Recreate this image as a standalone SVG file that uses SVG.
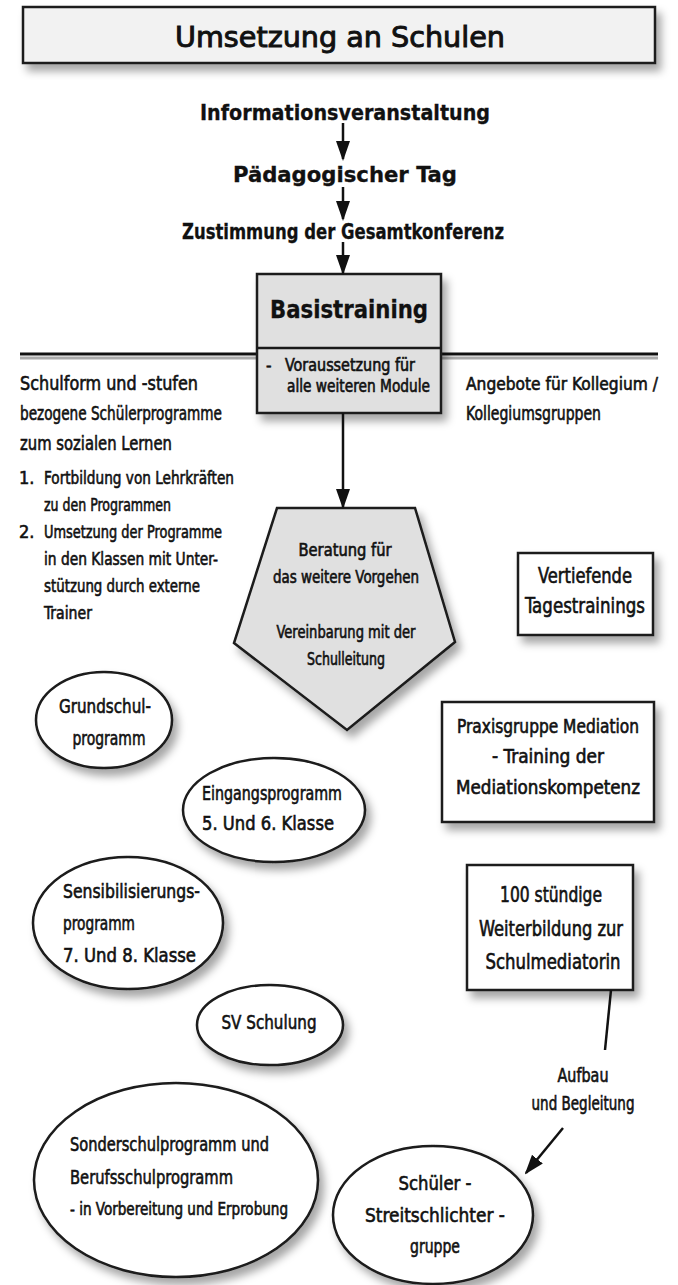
<svg xmlns="http://www.w3.org/2000/svg" width="678" height="1285" viewBox="0 0 678 1285">
<defs>
<filter id="sh" x="-20%" y="-20%" width="150%" height="150%">
<feDropShadow dx="5" dy="7" stdDeviation="4" flood-color="#000" flood-opacity="0.35"/>
</filter>
<marker id="ah" viewBox="0 0 10 10" refX="9" refY="5" markerWidth="8" markerHeight="8" orient="auto" markerUnits="strokeWidth">
<path d="M0,1.5 L10,5 L0,8.5 z" fill="#111"/>
</marker>
<style>
text{font-family:"DejaVu Sans Condensed","DejaVu Sans","Liberation Sans",sans-serif;font-stretch:condensed;fill:#111;stroke:#111;stroke-width:0.6}
.b{font-weight:bold;stroke-width:0.3}
.c{text-anchor:middle}
.shape{stroke:#1a1a1a;stroke-width:2.5;filter:url(#sh)}
.w{fill:#fff}
.g{fill:#e0e0e0}
.conn{stroke:#111;stroke-width:2.5;fill:none}
</style>
</defs>

<g id="title">
<rect class="shape" x="23" y="7" width="632" height="56" fill="#f2f2f2"/>
<text class="c" x="340" y="47" font-size="29" style="stroke-width:0.9" textLength="330" lengthAdjust="spacingAndGlyphs">Umsetzung an Schulen</text>
</g>

<g id="info"><text class="c b" x="345" y="120" font-size="22" textLength="290" lengthAdjust="spacingAndGlyphs">Informationsveranstaltung</text></g>
<g id="paed"><text class="c b" x="345" y="182" font-size="22" textLength="224" lengthAdjust="spacingAndGlyphs">Pädagogischer Tag</text></g>
<g id="zust"><text class="c b" x="343" y="239" font-size="22" textLength="322" lengthAdjust="spacingAndGlyphs">Zustimmung der Gesamtkonferenz</text></g>

<g id="lines">
<line x1="20" y1="358" x2="257" y2="358" stroke="#aaa" stroke-width="3"/>
<line x1="20" y1="354" x2="257" y2="354" stroke="#111" stroke-width="3"/>
<line x1="441" y1="358" x2="658" y2="358" stroke="#aaa" stroke-width="3"/>
<line x1="441" y1="354" x2="658" y2="354" stroke="#111" stroke-width="3"/>
</g>

<g id="basis">
<rect class="shape g" x="257" y="274" width="184" height="139"/>
<line x1="257" y1="348" x2="441" y2="348" stroke="#1a1a1a" stroke-width="2.5"/>
<text class="c b" x="349" y="318" font-size="24" textLength="158" lengthAdjust="spacingAndGlyphs">Basistraining</text>
<text x="266" y="371" font-size="17">-</text>
<text x="285" y="371" font-size="17" textLength="130" lengthAdjust="spacingAndGlyphs">Voraussetzung für</text>
<text x="287" y="392" font-size="17" textLength="143" lengthAdjust="spacingAndGlyphs">alle weiteren Module</text>
</g>

<g id="left-text">
<text x="20" y="390" font-size="20" textLength="178" lengthAdjust="spacingAndGlyphs">Schulform und -stufen</text>
<text x="20" y="420" font-size="20" textLength="202" lengthAdjust="spacingAndGlyphs">bezogene Schülerprogramme</text>
<text x="20" y="450" font-size="20" textLength="152" lengthAdjust="spacingAndGlyphs">zum sozialen Lernen</text>
<text x="19" y="484" font-size="18">1.</text>
<text x="44" y="484" font-size="18" textLength="190" lengthAdjust="spacingAndGlyphs">Fortbildung von Lehrkräften</text>
<text x="44" y="511" font-size="18" textLength="127" lengthAdjust="spacingAndGlyphs">zu den Programmen</text>
<text x="19" y="538" font-size="18">2.</text>
<text x="44" y="538" font-size="18" textLength="178" lengthAdjust="spacingAndGlyphs">Umsetzung der Programme</text>
<text x="44" y="565" font-size="18" textLength="174" lengthAdjust="spacingAndGlyphs">in den Klassen mit Unter-</text>
<text x="44" y="592" font-size="18" textLength="156" lengthAdjust="spacingAndGlyphs">stützung durch externe</text>
<text x="44" y="619" font-size="18" textLength="48" lengthAdjust="spacingAndGlyphs">Trainer</text>
</g>

<g id="right-text">
<text x="466" y="390" font-size="18" textLength="192" lengthAdjust="spacingAndGlyphs">Angebote für Kollegium /</text>
<text x="466" y="420" font-size="19" textLength="135" lengthAdjust="spacingAndGlyphs">Kollegiumsgruppen</text>
</g>

<g id="beratung">
<polygon class="shape g" points="277,508 415,508 455,642 347,730 234,643"/>
<text class="c" x="345" y="556" font-size="17" textLength="93" lengthAdjust="spacingAndGlyphs">Beratung für</text>
<text class="c" x="346" y="583" font-size="17" textLength="146" lengthAdjust="spacingAndGlyphs">das weitere Vorgehen</text>
<text class="c" x="346" y="638" font-size="17" textLength="139" lengthAdjust="spacingAndGlyphs">Vereinbarung mit der</text>
<text class="c" x="346" y="665" font-size="17" textLength="78" lengthAdjust="spacingAndGlyphs">Schulleitung</text>
</g>

<g id="vertiefende">
<rect class="shape w" x="518" y="553" width="135" height="82"/>
<text class="c" x="585" y="583" font-size="21" textLength="94" lengthAdjust="spacingAndGlyphs">Vertiefende</text>
<text class="c" x="585" y="613" font-size="21" textLength="120" lengthAdjust="spacingAndGlyphs">Tagestrainings</text>
</g>

<g id="praxis">
<rect class="shape w" x="442" y="702" width="212" height="120"/>
<text class="c" x="548" y="733" font-size="19" textLength="182" lengthAdjust="spacingAndGlyphs">Praxisgruppe Mediation</text>
<text class="c" x="548" y="763" font-size="19" textLength="112" lengthAdjust="spacingAndGlyphs">- Training der</text>
<text class="c" x="548" y="794" font-size="19" textLength="184" lengthAdjust="spacingAndGlyphs">Mediationskompetenz</text>
</g>

<g id="weiterbildung">
<rect class="shape w" x="467" y="865" width="166" height="125"/>
<text class="c" x="551" y="902" font-size="21" textLength="102" lengthAdjust="spacingAndGlyphs">100 stündige</text>
<text class="c" x="551" y="936" font-size="21" textLength="144" lengthAdjust="spacingAndGlyphs">Weiterbildung zur</text>
<text class="c" x="553" y="969" font-size="21" textLength="135" lengthAdjust="spacingAndGlyphs">Schulmediatorin</text>
</g>

<g id="grundschul">
<ellipse class="shape w" cx="104" cy="720" rx="68" ry="48"/>
<text class="c" x="105" y="713" font-size="20" textLength="92" lengthAdjust="spacingAndGlyphs">Grundschul-</text>
<text class="c" x="109" y="745" font-size="20" textLength="73" lengthAdjust="spacingAndGlyphs">programm</text>
</g>

<g id="eingang">
<ellipse class="shape w" cx="274" cy="810" rx="91" ry="52"/>
<text x="202" y="800" font-size="20" textLength="140" lengthAdjust="spacingAndGlyphs">Eingangsprogramm</text>
<text x="202" y="830" font-size="20" textLength="132" lengthAdjust="spacingAndGlyphs">5. Und 6. Klasse</text>
</g>

<g id="sensib">
<ellipse class="shape w" cx="128" cy="923" rx="95" ry="66"/>
<text x="63" y="898" font-size="20" textLength="137" lengthAdjust="spacingAndGlyphs">Sensibilisierungs-</text>
<text x="63" y="930" font-size="20" textLength="72" lengthAdjust="spacingAndGlyphs">programm</text>
<text x="63" y="962" font-size="20" textLength="133" lengthAdjust="spacingAndGlyphs">7. Und 8. Klasse</text>
</g>

<g id="sv">
<ellipse class="shape w" cx="270" cy="1025" rx="73" ry="40"/>
<text class="c" x="269" y="1029" font-size="20" textLength="95" lengthAdjust="spacingAndGlyphs">SV Schulung</text>
</g>

<g id="sonder">
<ellipse class="shape w" cx="176" cy="1180" rx="142" ry="97"/>
<text x="70" y="1151" font-size="20" textLength="199" lengthAdjust="spacingAndGlyphs">Sonderschulprogramm und</text>
<text x="70" y="1184" font-size="20" textLength="163" lengthAdjust="spacingAndGlyphs">Berufsschulprogramm</text>
<text x="70" y="1215" font-size="17" textLength="218" lengthAdjust="spacingAndGlyphs">- in Vorbereitung und Erprobung</text>
</g>

<g id="schueler">
<ellipse class="shape w" cx="433" cy="1215" rx="100" ry="69"/>
<text class="c" x="435" y="1190" font-size="20" textLength="73" lengthAdjust="spacingAndGlyphs">Schüler -</text>
<text class="c" x="435" y="1222" font-size="20" textLength="140" lengthAdjust="spacingAndGlyphs">Streitschlichter -</text>
<text class="c" x="435" y="1253" font-size="20" textLength="50" lengthAdjust="spacingAndGlyphs">gruppe</text>
</g>

<g id="connectors">
<line class="conn" x1="343" y1="123" x2="343" y2="159" marker-end="url(#ah)"/>
<line class="conn" x1="343" y1="187" x2="343" y2="219" marker-end="url(#ah)"/>
<line class="conn" x1="343" y1="242" x2="343" y2="273" marker-end="url(#ah)"/>
<line class="conn" x1="343" y1="413" x2="343" y2="507" marker-end="url(#ah)"/>
<line class="conn" x1="611" y1="990" x2="605" y2="1050" stroke-width="2"/>
<line class="conn" x1="563" y1="1128" x2="526" y2="1173" marker-end="url(#ah)"/>
<text class="c" x="583" y="1082" font-size="19" textLength="51" lengthAdjust="spacingAndGlyphs">Aufbau</text>
<text class="c" x="583" y="1110" font-size="19" textLength="103" lengthAdjust="spacingAndGlyphs">und Begleitung</text>
</g>
</svg>
